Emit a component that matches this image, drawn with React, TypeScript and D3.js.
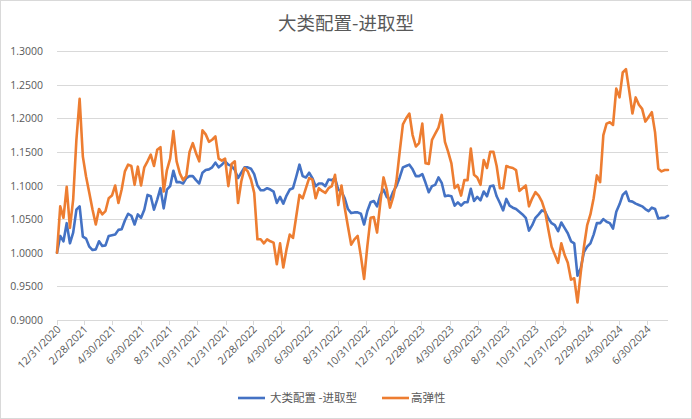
import React from "react";
import * as d3 from "d3";

const START_DATE = "12/31/2020";
const SERIES_NAMES = ["大类配置 -进取型", "高弹性"];
const TICK_LABELS = [
  "12/31/2020", "2/28/2021", "4/30/2021", "6/30/2021", "8/31/2021", "10/31/2021",
  "12/31/2021", "2/28/2022", "4/30/2022", "6/30/2022", "8/31/2022", "10/31/2022",
  "12/31/2022", "2/28/2023", "4/30/2023", "6/30/2023", "8/31/2023", "10/31/2023",
  "12/31/2023", "2/29/2024", "4/30/2024", "6/30/2024",
];
const Y_TICKS = [0.9, 0.95, 1.0, 1.05, 1.1, 1.15, 1.2, 1.25, 1.3];

const blueValues = [
  1.000, 1.025, 1.017, 1.044, 1.014, 1.030, 1.064, 1.069, 1.024, 1.021,
  1.009, 1.004, 1.005, 1.017, 1.010, 1.011, 1.025, 1.026, 1.027, 1.034,
  1.035, 1.048, 1.058, 1.055, 1.042, 1.057, 1.052, 1.064, 1.086, 1.084,
  1.064, 1.079, 1.096, 1.066, 1.094, 1.099, 1.122, 1.105, 1.105, 1.103,
  1.111, 1.114, 1.114, 1.108, 1.103, 1.119, 1.123, 1.124, 1.127, 1.134,
  1.127, 1.131, 1.136, 1.131, 1.129, 1.123, 1.111, 1.119, 1.127, 1.127,
  1.125, 1.117, 1.100, 1.093, 1.093, 1.096, 1.094, 1.091, 1.074, 1.083,
  1.073, 1.085, 1.094, 1.096, 1.113, 1.131, 1.114, 1.112, 1.119, 1.111,
  1.099, 1.103, 1.103, 1.099, 1.109, 1.108, 1.111, 1.094, 1.091, 1.081,
  1.065, 1.059, 1.060, 1.060, 1.058, 1.042, 1.062, 1.075, 1.077, 1.069,
  1.086, 1.094, 1.083, 1.079, 1.091, 1.099, 1.112, 1.127, 1.129, 1.131,
  1.124, 1.114, 1.114, 1.117, 1.104, 1.090, 1.099, 1.101, 1.112, 1.104,
  1.084, 1.085, 1.084, 1.070, 1.075, 1.070, 1.075, 1.075, 1.095, 1.077,
  1.083, 1.078, 1.091, 1.084, 1.099, 1.100, 1.084, 1.074, 1.063, 1.080,
  1.070, 1.067, 1.065, 1.061, 1.057, 1.052, 1.033, 1.041, 1.052, 1.057,
  1.063, 1.061, 1.051, 1.044, 1.041, 1.032, 1.045, 1.037, 1.029, 1.017,
  1.014, 0.966, 0.977, 1.001, 1.009, 1.014, 1.027, 1.044, 1.044, 1.050,
  1.046, 1.044, 1.036, 1.061, 1.072, 1.086, 1.091, 1.077, 1.076, 1.073,
  1.071, 1.069, 1.065, 1.062, 1.067, 1.065, 1.051, 1.052, 1.052, 1.055,
];

const orangeValues = [
  1.000, 1.069, 1.052, 1.098, 1.037, 1.079, 1.168, 1.229, 1.143, 1.113,
  1.089, 1.064, 1.042, 1.065, 1.057, 1.062, 1.081, 1.085, 1.100, 1.074,
  1.094, 1.121, 1.131, 1.129, 1.101, 1.128, 1.100, 1.127, 1.136, 1.146,
  1.129, 1.153, 1.157, 1.091, 1.123, 1.140, 1.181, 1.136, 1.118, 1.108,
  1.114, 1.150, 1.163, 1.148, 1.136, 1.182, 1.176, 1.165, 1.168, 1.173,
  1.140, 1.137, 1.140, 1.099, 1.132, 1.136, 1.074, 1.106, 1.126, 1.121,
  1.109, 1.089, 1.020, 1.020, 1.014, 1.020, 1.017, 1.015, 0.983, 1.014,
  0.978, 1.005, 1.027, 1.022, 1.054, 1.086, 1.081, 1.096, 1.111, 1.109,
  1.081, 1.096, 1.092, 1.089, 1.096, 1.099, 1.116, 1.071, 1.100, 1.067,
  1.039, 1.012, 1.020, 1.025, 0.995, 0.961, 1.010, 1.052, 1.053, 1.030,
  1.074, 1.112, 1.094, 1.067, 1.083, 1.107, 1.150, 1.191, 1.200, 1.207,
  1.175, 1.158, 1.163, 1.192, 1.133, 1.132, 1.168, 1.177, 1.186, 1.205,
  1.165, 1.150, 1.133, 1.096, 1.101, 1.085, 1.108, 1.108, 1.155, 1.116,
  1.112, 1.101, 1.138, 1.126, 1.150, 1.150, 1.129, 1.096, 1.096, 1.129,
  1.127, 1.126, 1.123, 1.092, 1.096, 1.100, 1.069, 1.081, 1.090, 1.085,
  1.076, 1.061, 1.034, 1.009, 0.997, 0.985, 1.014, 0.997, 0.985, 0.960,
  0.962, 0.926, 0.970, 1.009, 1.041, 1.057, 1.081, 1.115, 1.105, 1.175,
  1.192, 1.194, 1.190, 1.244, 1.231, 1.268, 1.273, 1.241, 1.207, 1.231,
  1.220, 1.214, 1.195, 1.202, 1.209, 1.179, 1.125, 1.121, 1.123, 1.123,
];

const W = 692;
const H = 419;
const M = { left: 57, right: 668, top: 51, bottom: 320 };
const BLUE = "#4472C4";
const ORANGE = "#ED7D31";
const TEXT = "#595959";
const GRID = "#D9D9D9";
const FONT = "'Open Sans', 'Noto Sans CJK SC', sans-serif";

export default function App() {
  const parse = d3.timeParse("%m/%d/%Y");
  const start = parse(START_DATE) as Date;
  const dates = blueValues.map((_, i) => d3.timeDay.offset(start, i * 7));
  const x = d3
    .scaleTime()
    .domain([start, dates[dates.length - 1]])
    .range([M.left, M.right]);
  const y = d3.scaleLinear().domain([0.9, 1.3]).range([M.bottom, M.top]);
  const line = d3
    .line<number>()
    .x((_, i) => x(dates[i]))
    .y((d) => y(d));
  const ticks = TICK_LABELS.map((t) => ({ label: t, date: parse(t) as Date }));

  return (
    <svg
      width={W}
      height={H}
      style={{ position: "absolute", left: 0, top: 0, background: "#fff" }}
      fontFamily={FONT}
    >
      <rect x={0.5} y={0.5} width={W - 1} height={H - 1} fill="#fff" stroke={GRID} />
      <text x={346} y={30} textAnchor="middle" fontSize={18.5} fill={TEXT}
        fontFamily="'Noto Sans CJK SC', sans-serif">
        大类配置-进取型
      </text>
      {Y_TICKS.map((v) => (
        <g key={v}>
          <line x1={M.left} x2={M.right} y1={Math.round(y(v)) + 0.5} y2={Math.round(y(v)) + 0.5}
            stroke={GRID} strokeWidth={1} />
          <text x={43} y={y(v) + 4} textAnchor="end" fontSize={10.5} fill={TEXT}>
            {d3.format(".4f")(v)}
          </text>
        </g>
      ))}
      {ticks.map((t) => {
        const tx = Math.round(x(t.date)) + 0.5;
        return (
          <g key={t.label}>
            <line x1={tx} x2={tx} y1={M.bottom} y2={M.bottom + 5} stroke={GRID} />
            <text
              transform={`translate(${tx + 4},${M.bottom + 10}) rotate(-45)`}
              textAnchor="end"
              fontSize={10.5}
              fill={TEXT}
            >
              {t.label}
            </text>
          </g>
        );
      })}
      <path d={line(blueValues) || ""} fill="none" stroke={BLUE} strokeWidth={2.6}
        strokeLinejoin="round" strokeLinecap="round" />
      <path d={line(orangeValues) || ""} fill="none" stroke={ORANGE} strokeWidth={2.6}
        strokeLinejoin="round" strokeLinecap="round" />
      <g fontSize={11.5} fill={TEXT} fontFamily="'Noto Sans CJK SC', sans-serif">
        <line x1={238} x2={265} y1={398} y2={398} stroke={BLUE} strokeWidth={2.6} />
        <text x={270} y={402}>{SERIES_NAMES[0]}</text>
        <line x1={382} x2={409} y1={398} y2={398} stroke={ORANGE} strokeWidth={2.6} />
        <text x={411} y={402}>{SERIES_NAMES[1]}</text>
      </g>
    </svg>
  );
}
